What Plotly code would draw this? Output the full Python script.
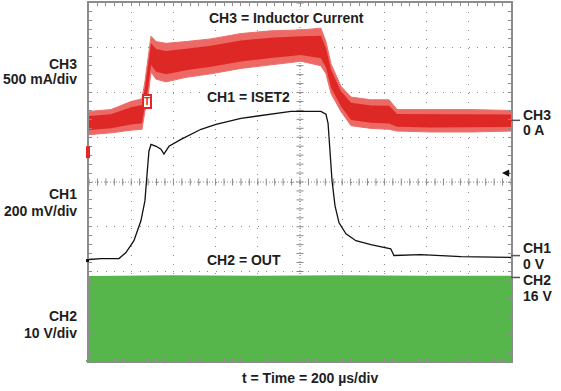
import numpy as np
import plotly.graph_objects as go

# ---------------- data (read from the scope shot) ----------------
# time in microseconds (200 us/div, 10 divisions)
ch3_t = [0, 104, 199, 251, 265, 280, 294, 318, 365, 460, 578, 720, 862, 1005, 1099,
         1123, 1147, 1194, 1242, 1336, 1422, 1460, 1621, 1810, 2000]
# inductor current envelope (A)
ch3_hi = [0.10, 0.12, 0.21, 0.24, 0.43, 0.71, 0.94, 0.88, 0.86, 0.88, 0.91, 0.97, 1.00, 1.01, 1.03,
          0.88, 0.63, 0.38, 0.26, 0.23, 0.23, 0.12, 0.12, 0.12, 0.11]
ch3_lo = [-0.16, -0.14, -0.11, -0.10, 0.10, 0.27, 0.54, 0.46, 0.43, 0.48, 0.52, 0.58, 0.62, 0.66, 0.61,
          0.52, 0.30, 0.10, -0.06, -0.09, -0.10, -0.12, -0.13, -0.13, -0.12]

# ISET2 voltage (V)
ch1_t = [0, 57, 142, 175, 213, 246, 265, 275, 284, 294, 318, 341, 355, 379, 436, 531, 602,
         720, 815, 957, 1099, 1123, 1133, 1142, 1152, 1166, 1185, 1218, 1265, 1336, 1408,
         1430, 1445, 1573, 1763, 2000]
ch1_v = [-0.013, -0.009, -0.009, 0.018, 0.071, 0.16, 0.249, 0.36, 0.471, 0.502, 0.493, 0.48,
         0.458, 0.493, 0.524, 0.569, 0.591, 0.618, 0.631, 0.649, 0.649, 0.636, 0.596, 0.471,
         0.338, 0.227, 0.151, 0.102, 0.071, 0.053, 0.040, 0.035, 0.005, 0.009, 0.0, -0.004]

# OUT switching node envelope (V)
ch2_t = [0, 400, 800, 1200, 1600, 2000]
ch2_hi = [16.3, 16.5, 16.4, 16.5, 16.4, 16.4]
ch2_lo = [-2.7, -2.7, -2.7, -2.7, -2.7, -2.7]

# channel settings (scale per division, screen position of reference level in divisions)
CH3_SCALE, CH3_POS = 0.5, 5.378
CH1_SCALE, CH1_POS = 0.2, 2.333
CH2_SCALE, CH2_REF, CH2_POS = 10.0, 16.0, 1.867

# ---------------- figure ----------------
W, H = 561, 391
L, R, T, B = 89, 50, 1, 30
PW, PH = W - L - R, H - T - B


def px(x):
    return (x - L) / PW


def py(y):
    return (T + PH - y) / PH


def d3(a):
    return [CH3_POS + v / CH3_SCALE for v in a]


def d1(a):
    return [CH1_POS + v / CH1_SCALE for v in a]


def d2(a):
    return [CH2_POS + (v - CH2_REF) / CH2_SCALE for v in a]


hi3 = np.array(ch3_hi)
lo3 = np.array(ch3_lo)
mid3 = (hi3 + lo3) / 2
half3 = (hi3 - lo3) / 2
core_hi = mid3 + 0.6 * half3
core_lo = mid3 - 0.6 * half3

fig = go.Figure()

# graticule center cross ticks
tick_x = np.arange(0, 2000.1, 40)
tick_y = np.arange(0, 8.01, 0.2)
fig.add_trace(go.Scatter(x=tick_x, y=[4] * len(tick_x), mode="markers",
                         marker=dict(symbol="line-ns", size=5, line=dict(width=1, color="#8a8a8a")),
                         hoverinfo="skip", showlegend=False))
fig.add_trace(go.Scatter(x=[1000] * len(tick_y), y=tick_y, mode="markers",
                         marker=dict(symbol="line-ew", size=5, line=dict(width=1, color="#8a8a8a")),
                         hoverinfo="skip", showlegend=False))

# CH2 (green)
fig.add_trace(go.Scatter(x=ch2_t, y=d2(ch2_hi), mode="lines", line=dict(width=0, color="rgb(84,180,74)"),
                         hoverinfo="skip", showlegend=False))
fig.add_trace(go.Scatter(x=ch2_t, y=d2(ch2_lo), mode="lines", line=dict(width=0, color="rgb(84,180,74)"),
                         fill="tonexty", fillcolor="rgb(86,182,76)", hoverinfo="skip", showlegend=False))

# CH3 (red) outer envelope
fig.add_trace(go.Scatter(x=ch3_t, y=d3(ch3_hi), mode="lines", line=dict(width=1, color="rgb(236,112,108)"),
                         hoverinfo="skip", showlegend=False))
fig.add_trace(go.Scatter(x=ch3_t, y=d3(ch3_lo), mode="lines", line=dict(width=1, color="rgb(236,112,108)"),
                         fill="tonexty", fillcolor="rgb(236,105,100)", hoverinfo="skip", showlegend=False))
# CH3 dense core
fig.add_trace(go.Scatter(x=ch3_t, y=d3(core_hi), mode="lines", line=dict(width=0, color="rgb(221,40,38)"),
                         hoverinfo="skip", showlegend=False))
fig.add_trace(go.Scatter(x=ch3_t, y=d3(core_lo), mode="lines", line=dict(width=0, color="rgb(221,40,38)"),
                         fill="tonexty", fillcolor="rgb(221,40,38)", hoverinfo="skip", showlegend=False))

# CH1 (black)
fig.add_trace(go.Scatter(x=ch1_t, y=d1(ch1_v), mode="lines", line=dict(width=1.3, color="#111"),
                         hoverinfo="skip", showlegend=False))

FONT = "Liberation Sans, Arial, Helvetica, sans-serif"
TXT = "#1e1e1e"
ann = []


def label(text, x, y, xanchor="center", bg=None):
    d = dict(text="<b>%s</b>" % text, x=px(x), y=py(y), xref="paper", yref="paper",
             xanchor=xanchor, yanchor="middle", showarrow=False,
             font=dict(family=FONT, size=14, color=TXT), borderpad=0)
    if bg:
        d["bgcolor"] = bg
    ann.append(d)


label("CH3", 78, 62, "right")
label("500 mA/div", 78, 77, "right")
label("CH1", 78, 193, "right")
label("200 mV/div", 78, 210, "right")
label("CH2", 78, 316, "right")
label("10 V/div", 78, 333, "right")

label("CH3", 522, 114, "left")
label("0 A", 522, 129, "left")
label("CH1", 522, 247, "left")
label("0 V", 522, 263, "left")
label("CH2", 522, 280, "left")
label("16 V", 522, 296, "left")

label("CH3 = Inductor Current", 286.5, 16, "center", "white")
label("CH1 = ISET2", 248.5, 96, "center", "white")
label("CH2 = OUT", 244, 259, "center", "white")
label("t = Time = 200 µs/div", 309.5, 378, "center")

# trigger marker box
ann.append(dict(text="<b>T</b>", x=px(142), y=py(92.5), xref="paper", yref="paper",
                showarrow=False, font=dict(family=FONT, size=10, color="rgb(221,40,38)"),
                bgcolor="white", bordercolor="rgb(221,40,38)", borderwidth=2, borderpad=0))
# trigger level arrow (right)
ann.append(dict(text="", x=px(502), y=py(172), xref="paper", yref="paper",
                showarrow=True, ax=9, ay=0, arrowhead=2, arrowsize=1.1, arrowwidth=1.3,
                arrowcolor="#111"))

shapes = [
    # dense center cross
    dict(type="line", xref="x", yref="y", x0=1000, x1=1000, y0=0, y1=8,
         line=dict(color="#8a8a8a", width=1, dash="1px,2px"), layer="below"),
    dict(type="line", xref="x", yref="y", x0=0, x1=2000, y0=4, y1=4,
         line=dict(color="#8a8a8a", width=1, dash="1px,2px"), layer="below"),
    # right side reference dashes
    dict(type="line", xref="paper", yref="paper", x0=px(511), x1=px(520), y0=py(119), y1=py(119),
         line=dict(color="#555", width=1.5)),
    dict(type="line", xref="paper", yref="paper", x0=px(511), x1=px(520), y0=py(255), y1=py(255),
         line=dict(color="#555", width=1.5)),
    dict(type="line", xref="paper", yref="paper", x0=px(511), x1=px(520), y0=py(277), y1=py(277),
         line=dict(color="#555", width=1.5)),
    # left side channel markers
    dict(type="rect", xref="paper", yref="paper", x0=px(86), x1=px(90), y0=py(157), y1=py(145),
         line=dict(width=0), fillcolor="rgb(221,40,38)"),
    dict(type="rect", xref="paper", yref="paper", x0=px(86), x1=px(89), y0=py(261.5), y1=py(258.5),
         line=dict(width=0), fillcolor="#111"),
    dict(type="rect", xref="paper", yref="paper", x0=px(86), x1=px(90), y0=py(362), y1=py(360),
         line=dict(width=0), fillcolor="rgb(86,182,76)"),
]

fig.update_layout(
    width=W, height=H,
    margin=dict(l=L, r=R, t=T, b=B, pad=0),
    paper_bgcolor="white", plot_bgcolor="white",
    showlegend=False,
    annotations=ann, shapes=shapes,
    xaxis=dict(range=[0, 2000], dtick=200, showticklabels=False,
               showgrid=True, gridcolor="#8c8c8c", gridwidth=1, griddash="1px,8px",
               showline=True, linecolor="#8c8c8c", linewidth=1.5, mirror="ticks",
               ticks="inside", ticklen=3, tickcolor="#8c8c8c",
               minor=dict(dtick=40, ticks="inside", ticklen=3, tickcolor="#8c8c8c", showgrid=False),
               zeroline=False, fixedrange=True),
    yaxis=dict(range=[0, 8], dtick=1, showticklabels=False,
               showgrid=True, gridcolor="#8c8c8c", gridwidth=1, griddash="1px,7.44px",
               showline=True, linecolor="#8c8c8c", linewidth=1.5, mirror="ticks",
               ticks="inside", ticklen=3, tickcolor="#8c8c8c",
               minor=dict(dtick=0.2, ticks="inside", ticklen=3, tickcolor="#8c8c8c", showgrid=False),
               zeroline=False, fixedrange=True),
)

fig.write_html("out.html", config={"displayModeBar": False},
               post_script="document.body.style.margin='0';document.body.style.overflow='hidden';")
